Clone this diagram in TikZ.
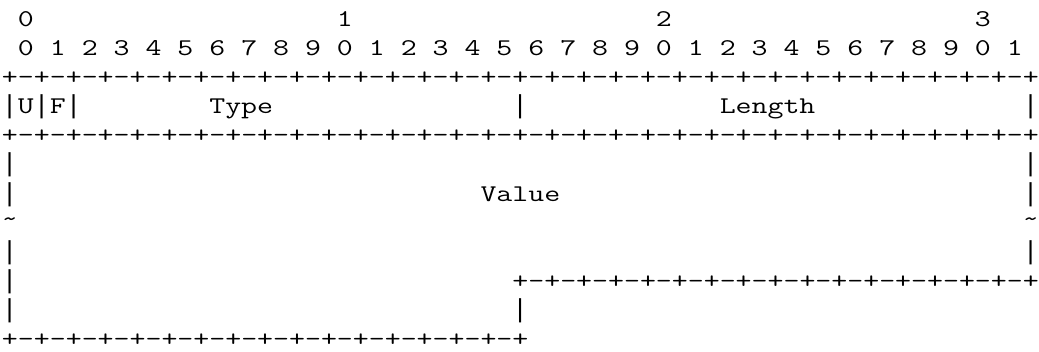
\documentclass[tikz,border=0pt]{standalone}
\usepackage{fontspec}
\setmonofont[FakeStretch=1.29]{Latin Modern Mono}
\newfontfamily\barfont{Liberation Mono}
\newcommand\asc[4]{\node[txt] (#1) at ({2+15.95*(#2)},{26.5+29.1*(#3)}) {#4};}
\newcommand\vbar[3]{\node[txt] (#1) at ({2+15.95*(#2)},{26.5+29.1*(#3)}) {\barfont\fontsize{19.5pt}{20pt}\selectfont|};}
\newcommand\bord[4]{% name prefix, first col, row, last index
  \foreach \k in {0,...,#4}{%
    \pgfmathtruncatemacro\cl{#2+\k}%
    \ifodd\k\relax \asc{#1\k}{\cl}{#3}{-}\else \asc{#1\k}{\cl}{#3}{+}\fi
  }}
\begin{document}
\begin{tikzpicture}[x=0.75pt,y=-0.75pt,
  txt/.style={anchor=base west, inner sep=0pt, outer sep=0pt,
    font=\ttfamily\fontsize{18pt}{18pt}\selectfont, text=black}]
\useasboundingbox (0,0) rectangle (1039,352);
% row 0: decade labels
\asc{t0}{1}{0}{0}
\asc{t1}{21}{0}{1}
\asc{t2}{41}{0}{2}
\asc{t3}{61}{0}{3}
% row 1: bit numbers
\foreach \k in {0,...,31}{
  \pgfmathtruncatemacro\dg{mod(\k,10)}
  \pgfmathtruncatemacro\cl{2*\k+1}
  \asc{b\k}{\cl}{1}{\dg}
}
% row 2: top border
\bord{ta}{0}{2}{64}
% row 3: U F Type Length
\vbar{bar3l}{0}{3}
\asc{uflag}{1}{3}{U}
\vbar{bar3a}{2}{3}
\asc{fflag}{3}{3}{F}
\vbar{bar3b}{4}{3}
\asc{type}{13}{3}{Type}
\vbar{bar3m}{32}{3}
\asc{len}{45}{3}{Length}
\vbar{bar3r}{64}{3}
% row 4: border
\bord{mb}{0}{4}{64}
% rows 5-10: value area
\vbar{l5}{0}{5}
\vbar{r5}{64}{5}
\vbar{l6}{0}{6}
\asc{val}{30}{6}{Value}
\vbar{r6}{64}{6}
\asc{l7}{0}{7}{\raisebox{3pt}{\char`\~}}
\asc{r7}{64}{7}{\raisebox{3pt}{\char`\~}}
\vbar{l8}{0}{8}
\vbar{r8}{64}{8}
\vbar{l9}{0}{9}
\bord{hb}{32}{9}{32}
\vbar{l10}{0}{10}
\vbar{m10}{32}{10}
% row 11: bottom border
\bord{bb}{0}{11}{32}
\end{tikzpicture}
\end{document}
